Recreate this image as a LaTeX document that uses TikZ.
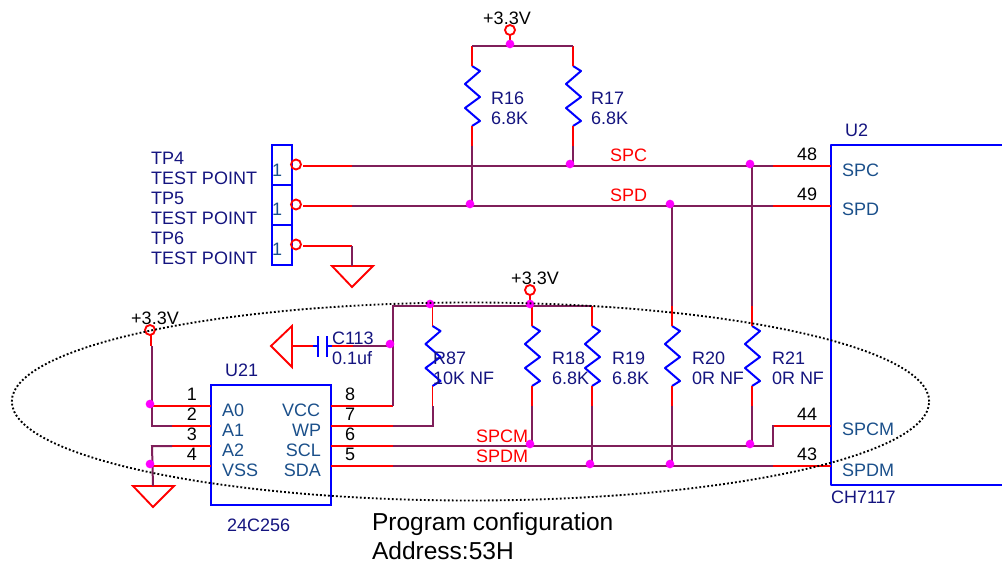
\documentclass[tikz,border=0pt]{standalone}
\usepackage{fontspec}
\usetikzlibrary{shapes.geometric}
\setmainfont{Liberation Sans}
\definecolor{netcol}{HTML}{7F1F5A}
\definecolor{partcol}{HTML}{14147F}
\definecolor{pincol}{HTML}{1A4F8A}
\definecolor{dotcol}{HTML}{FF00FF}
\tikzset{
    resistor/.pic={
        \coordinate (-top) at (0,0);
        \coordinate (-bot) at (0,60);
        \draw[part] (-top) -- (8,5) -- (-7,18) -- (8,31) -- (-7,42) -- (8,55) -- (-bot);
    },
    gnd/.pic={
        \coordinate (-top) at (0,0);
        \draw[stub] (-20,0) -- (21,0) -- (0,21) -- cycle;
    },
    part/.style={color=blue, line width=1.5pt, line join=round},
    stub/.style={color=red, line width=1.4pt},
    net/.style={color=netcol, line width=1.5pt}
}
\begin{document}
\begin{tikzpicture}[x=0.75pt,y=-0.75pt,
                every node/.style={inner sep=0pt, outer sep=0pt, font=\fontsize{13.5}{15}\selectfont},
                pin/.style={circle, draw=red, line width=1.4pt, minimum size=7.5pt},
                dot/.style={circle, fill=dotcol, minimum size=6.5pt},
                tpbox/.style={draw=blue, line width=1.5pt, minimum width=15pt, minimum height=30pt},
                refdes/.style={color=partcol, anchor=west, align=left},
                signal/.style={color=red, anchor=west},
                pinname/.style={color=pincol, anchor=west},
                pinnameb/.style={color=pincol, anchor=east},
                pinno/.style={color=black},
                power/.style={color=black}]
    \useasboundingbox (0,0) rectangle (1002,563);
    % test points
    \node[tpbox] (box4) at (281.5,165) {};
    \node[tpbox] (box5) at (281.5,205) {};
    \node[tpbox] (box6) at (281.5,245) {};
    \node[pinname] (one4) at (272,170) {1};
    \node[pinname] (one5) at (272,209) {1};
    \node[pinname] (one6) at (272,249) {1};
    \node[refdes] (tp4) at (151,168) {TP4\\TEST POINT};
    \node[refdes] (tp5) at (151,208) {TP5\\TEST POINT};
    \node[refdes] (tp6) at (151,248) {TP6\\TEST POINT};
    \node[pin] (pin4) at (296,164.5) {};
    \node[pin] (pin5) at (296,204.5) {};
    \node[pin] (pin6) at (296,244.5) {};
    \coordinate (a4) at (303,166);
    \coordinate (a5) at (303,206);
    \coordinate (a6) at (303,246);
    \coordinate (b4) at (352,166);
    \coordinate (b5) at (352,206);
    \coordinate (b6) at (352,246);
    % chips
    \node[draw=blue, line width=1.5pt, minimum width=90.4pt, minimum height=90pt] (u21) at (271,445) {};
    \node[refdes] (u21name) at (225,370) {U21};
    \node[refdes] (u21type) at (227,525) {24C256};
    \coordinate (u2a) at (1002,145);
    \coordinate (u2b) at (831,145);
    \coordinate (u2c) at (831,485);
    \coordinate (u2d) at (1002,485);
    \draw[part] (u2a) -- (u2b) -- (u2c) -- (u2d);
    \node[refdes] (u2name) at (845,130) {U2};
    \node[refdes] (u2type) at (831,497) {CH7117};
    \node[pinname] (a0) at (222,410) {A0};
    \node[pinname] (a1) at (222,430) {A1};
    \node[pinname] (a2) at (222,450) {A2};
    \node[pinname] (vss) at (222,470) {VSS};
    \node[pinnameb] (vcc) at (320,410) {VCC};
    \node[pinnameb] (wp) at (321,430) {WP};
    \node[pinnameb] (scl) at (321,450) {SCL};
    \node[pinnameb] (sda) at (321,470) {SDA};
    \node[pinname] (spc) at (842,170) {SPC};
    \node[pinname] (spd) at (842,209) {SPD};
    \node[pinname] (spcm) at (842,429) {SPCM};
    \node[pinname] (spdm) at (842,470) {SPDM};
    \node[pinno] (n1) at (192,394) {1};
    \node[pinno] (n2) at (192,414) {2};
    \node[pinno] (n3) at (192,434) {3};
    \node[pinno] (n4) at (192,454) {4};
    \node[pinno] (n8) at (350,394) {8};
    \node[pinno] (n7) at (350,414) {7};
    \node[pinno] (n6) at (350,434) {6};
    \node[pinno] (n5) at (350,454) {5};
    \node[pinno] (n48) at (807,154) {48};
    \node[pinno] (n49) at (807,194) {49};
    \node[pinno] (n44) at (807,414) {44};
    \node[pinno] (n43) at (807,454) {43};
    % resistors
    \pic (r16) at (472,66) {resistor};
    \pic (r17) at (573,66) {resistor};
    \pic (r87) at (432.5,326) {resistor};
    \pic (r18) at (532,326) {resistor};
    \pic (r19) at (592,326) {resistor};
    \pic (r20) at (672,326) {resistor};
    \pic (r21) at (752,326) {resistor};
    \node[refdes] (r16val) at (491,108) {R16\\6.8K};
    \node[refdes] (r17val) at (591,108) {R17\\6.8K};
    \node[refdes] (r87val) at (433,368) {R87\\10K NF};
    \node[refdes] (r18val) at (552,368) {R18\\6.8K};
    \node[refdes] (r19val) at (612,368) {R19\\6.8K};
    \node[refdes] (r20val) at (692,368) {R20\\0R NF};
    \node[refdes] (r21val) at (772,368) {R21\\0R NF};
    % supplies
    \node[power] (vtop) at (507,18) {+3.3V};
    \node[power] (vmid) at (535,278) {+3.3V};
    \node[power] (vleft) at (155,318) {+3.3V};
    \node[pin] (ptop) at (510,30) {};
    \node[pin] (pmid) at (530,290) {};
    \node[pin] (pleft) at (150,330) {};
    \pic (g6) at (352,266) {gnd};
    \pic (g21) at (153,486) {gnd};
    \pic[rotate=-90] (g113) at (292,346) {gnd};
    % capacitor
    \coordinate (cl) at (318,346);
    \coordinate (cr) at (327,346);
    \draw[part] (318,336) -- (318,357) (327,336) -- (327,357) (313,346) -- (cl) (cr) -- (332,346);
    \node[refdes] (c113) at (332,348) {C113\\0.1uf};
    % red stubs
    \path[stub]
        (a4) edge (b4)
        (a5) edge (b5)
        (a6) edge (b6)
        (773,166) edge (u2b |- 0,166)
        (773,206) edge (u2b |- 0,206)
        (773,426) edge (u2b |- 0,426)
        (773,466) edge (u2b |- 0,466)
        (510,35) edge (510,46)
        (530,295) edge (530,306)
        (151,335) edge (151,346)
        (152,406) edge (211,406)
        (172,426) edge (211,426)
        (172,446) edge (211,446)
        (152,466) edge (211,466)
        (331,406) edge (393,406)
        (331,426) edge (393,426)
        (331,446) edge (393,446)
        (331,466) edge (393,466)
        (292,346) edge (313,346)
        (332,346) edge (353,346)
        (472,46) edge (r16-top)
        (r16-bot) edge (472,146)
        (573,46) edge (r17-top)
        (r17-bot) edge (573,146)
        (432.5,306) edge (r87-top)
        (r87-bot) edge (432.5,406)
        (532,306) edge (r18-top)
        (r18-bot) edge (532,406)
        (592,306) edge (r19-top)
        (r19-bot) edge (592,406)
        (672,306) edge (r20-top)
        (r20-bot) edge (672,406)
        (752,306) edge (r21-top)
        (r21-bot) edge (752,406);
    % nets
    \draw[net] (472,46) -- (573,46);
    \draw[net] (b4) -- (773,166);
    \draw[net] (b5) -- (773,206);
    \draw[net] (b6) -- (g6-top);
    \draw[net] (472,146) -- (472,206);
    \draw[net] (573,146) -- (573,166);
    \draw[net] (152,346) -- (152,426) -- (172,426);
    \draw[net] (172,446) -- (152,446) -- (g21-top);
    \draw[net] (393,406) -- (393,306) -- (592,306);
    \draw[net] (353,346) -- (393,346);
    \draw[net] (393,426) -- (432.5,426) -- (432.5,406);
    \draw[net] (393,446) -- (772.5,446) -- (772.5,426) -- (773,426);
    \draw[net] (393,466) -- (773,466);
    \draw[net] (532,406) -- (532,446);
    \draw[net] (592,406) -- (592,466);
    \draw[net] (672,206) -- (672,306) (672,406) -- (672,466);
    \draw[net] (752,166) -- (752,306) (752,406) -- (752,446);
    % net names
    \node[signal] (spcnet) at (610,155) {SPC};
    \node[signal] (spdnet) at (610,195) {SPD};
    \node[signal] (spcmnet) at (476,436) {SPCM};
    \node[signal] (spdmnet) at (476,456) {SPDM};
    % junctions
    \node[dot] (j1) at (510,44) {};
    \node[dot] (j2) at (470,204) {};
    \node[dot] (j3) at (570,164) {};
    \node[dot] (j4) at (750,164) {};
    \node[dot] (j5) at (670,204) {};
    \node[dot] (j6) at (430,304) {};
    \node[dot] (j7) at (530,304) {};
    \node[dot] (j8) at (390,344) {};
    \node[dot] (j9) at (150,404) {};
    \node[dot] (j10) at (150,464) {};
    \node[dot] (j11) at (530,444) {};
    \node[dot] (j12) at (750,444) {};
    \node[dot] (j13) at (590,464) {};
    \node[dot] (j14) at (670,464) {};
    % grouping and note
    \node[draw=black, line width=1.4pt, dash pattern=on 1.4pt off 1.6pt, ellipse, minimum width=688pt, minimum height=148.5pt] (group) at (470.5,401.5) {};
    \node[color=black, anchor=base west, font=\fontsize{18.4}{22}\selectfont] (note1) at (372,530) {Program configuration};
    \node[color=black, anchor=base west, font=\fontsize{18.4}{22}\selectfont] (note2) at (372,559) {Address:53H};
\end{tikzpicture}
\end{document}
